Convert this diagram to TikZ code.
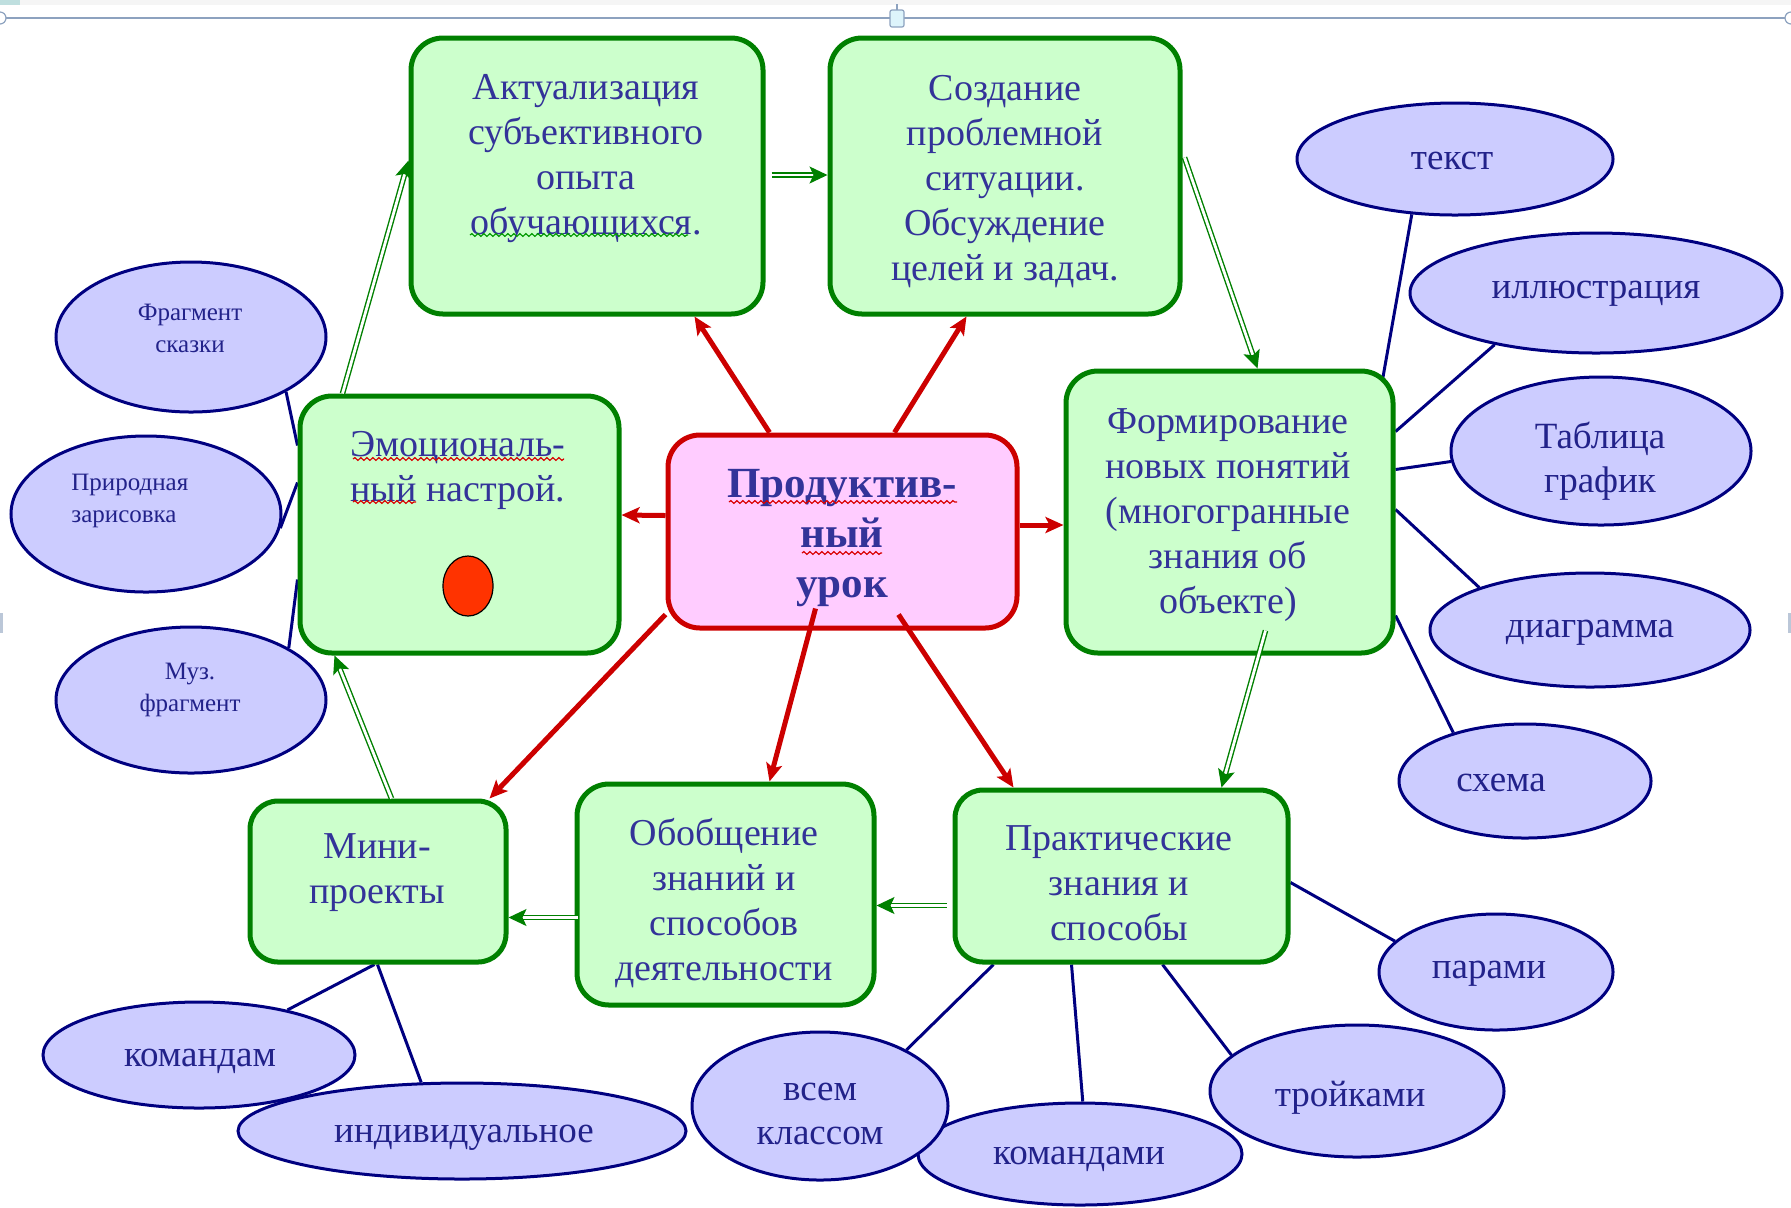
\documentclass[tikz,border=0pt]{standalone}
\usepackage{fontspec}
\setmainfont{Liberation Serif}
\usetikzlibrary{arrows.meta,shapes.geometric,calc,backgrounds,decorations.pathmorphing}
\definecolor{gfill}{HTML}{CCFFCC}
\definecolor{gline}{HTML}{008000}
\definecolor{pfill}{HTML}{FFCCFF}
\definecolor{rline}{HTML}{CC0000}
\definecolor{efill}{HTML}{CCCCFF}
\definecolor{eline}{HTML}{000080}
\definecolor{tcol}{HTML}{333399}
\definecolor{etcol}{HTML}{22228A}
\definecolor{fcol}{HTML}{8DA2BF}
\definecolor{hfill}{HTML}{DDF4FB}
\definecolor{ovalred}{HTML}{FF3300}
\begin{document}
\begin{tikzpicture}[x=0.5pt,y=-0.5pt,
  gbox/.style={draw=gline, fill=gfill, line width=2.5pt, rounded corners=16pt, inner sep=0pt},
  pbox/.style={draw=rline, fill=pfill, line width=2.5pt, rounded corners=16pt, inner sep=0pt},
  ell/.style={ellipse, draw=eline, fill=efill, line width=1.5pt, inner sep=0pt},
  btxt/.style={text=tcol, align=center, inner sep=0pt, yshift=-2.5pt, font=\fontsize{19}{22.5}\selectfont},
  etxt/.style={text=etcol, align=center, inner sep=0pt, yshift=-3.5pt, font=\fontsize{18.5}{21.7}\selectfont},
  etxtm/.style={etxt, yshift=1.5pt},
  stxt/.style={text=etcol, align=center, inner sep=0pt, yshift=-1pt, font=\fontsize{12.5}{16}\selectfont},
  ctxt/.style={text=tcol, align=center, inner sep=0pt, yshift=-2pt, font=\fontsize{21.5}{25}\selectfont\bfseries},
  garrow/.style={draw=gline, line width=0.7pt, double=white, double distance=1.4pt,
     -{Stealth[length=9pt,width=8.5pt,inset=2pt]}},
  rarrow/.style={draw=rline, line width=2.5pt, -{Stealth[length=9pt,width=8pt,inset=2pt]}},
  nline/.style={draw=eline, line width=1.5pt},
  rsquig/.style={draw=red!85!black, line width=0.6pt, decorate, decoration={snake, amplitude=0.7pt, segment length=3pt}},
  gsquig/.style={draw=green!60!black, line width=0.6pt, decorate, decoration={snake, amplitude=0.7pt, segment length=3pt}}
]
\useasboundingbox (0,0) rectangle (1791,1207);

% window frame pieces
\fill[gray!8] (0,0) rectangle (1791,5);
\fill[teal!25] (0,0) rectangle (20,5);
\draw[fcol, line width=1pt] (0,18) -- (1791,18);
\draw[fcol, line width=0.6pt, fill=white] (0,18) circle (3pt);
\draw[fcol, line width=0.6pt, fill=white] (1791,18) circle (3pt);
\draw[fcol, line width=0.8pt] (897,4) -- (897,10);
\draw[fcol, line width=0.6pt, fill=hfill, rounded corners=1pt] (890,10) rectangle (904,27);
\fill[fcol!60] (0,613) rectangle (3,633);
\fill[fcol!60] (1788,613) rectangle (1791,633);

% boxes
\node[gbox, minimum width=176pt, minimum height=138pt] (b1) at (587,176) {};
\node[gbox, minimum width=175pt, minimum height=138pt] (b2) at (1005,176) {};
\node[gbox, minimum width=159.5pt, minimum height=128.5pt] (b3) at (459.5,524.5) {};
\node[pbox, minimum width=174.5pt, minimum height=96.5pt] (c) at (842.5,531.5) {};
\node[gbox, minimum width=163.5pt, minimum height=141pt] (b5) at (1229.5,512) {};
\node[gbox, minimum width=128pt, minimum height=80.5pt, rounded corners=14pt] (b6) at (378,881.5) {};
\node[gbox, minimum width=148.5pt, minimum height=110.5pt] (b7) at (725.5,894.5) {};
\node[gbox, minimum width=166.5pt, minimum height=86pt, rounded corners=14pt] (b8) at (1121.5,876) {};

% box texts
\node[btxt] (t1) at (586,154) {Актуализация\\субъективного\\опыта\\обучающихся.};
\node[btxt] (t2) at (1005,177) {Создание\\проблемной\\ситуации.\\Обсуждение\\целей и задач.};
\node[btxt] (t3) at (458,465) {Эмоциональ-\\ный настрой.};
\node[ellipse, draw=black, line width=0.6pt, fill=ovalred, minimum width=25pt, minimum height=30pt, inner sep=0pt] (oval) at (468,586) {};
\node[ctxt] (tc) at (842,534) {Продуктив-\\ный\\урок};
\node[btxt] (t5) at (1228,510) {Формирование\\новых понятий\\(многогранные\\знания об\\объекте)};
\node[btxt] (t6) at (377,868) {Мини-\\проекты};
\node[btxt] (t7) at (724,898) {Обобщение\\знаний и\\способов\\деятельности};
\node[btxt] (t8) at (1119,878) {Практические\\знания и\\способы};

% spell-check squiggles
\draw[rsquig] (353,459) -- (564,459);
\draw[rsquig] (353,502) -- (416,502);
\draw[rsquig] (729,502) -- (957,502);
\draw[rsquig] (802,553) -- (882,553);
\draw[gsquig] (470,235) -- (688,235);

% ellipses
\node[ell, minimum width=158pt, minimum height=56pt] (e1) at (1455,159) {};
\node[ell, minimum width=186pt, minimum height=60pt] (e2) at (1596,293) {};
\node[ell, minimum width=150pt, minimum height=74pt] (e3) at (1601,451) {};
\node[ell, minimum width=160pt, minimum height=57pt] (e4) at (1590,630) {};
\node[ell, minimum width=126pt, minimum height=57pt] (e5) at (1525,781) {};
\node[ell, minimum width=117pt, minimum height=58pt] (e6) at (1496,972) {};
\node[ell, minimum width=147pt, minimum height=66pt] (e7) at (1357,1091) {};
\node[ell, minimum width=162pt, minimum height=51pt] (e8) at (1080,1154) {};
\node[ell, minimum width=128pt, minimum height=74pt] (e9) at (820,1106) {};
\node[ell, minimum width=156pt, minimum height=53pt] (e11) at (199,1055) {};
\node[ell, minimum width=224pt, minimum height=48pt] (e10) at (462,1131) {};
\node[ell, minimum width=135pt, minimum height=75pt] (e12) at (191,337) {};
\node[ell, minimum width=135pt, minimum height=78pt] (e13) at (146,514) {};
\node[ell, minimum width=135pt, minimum height=73pt] (e14) at (191,700) {};

% ellipse texts
\node[etxt] (te1) at (1452,154) {текст};
\node[etxt] (te2) at (1596,287) {иллюстрация};
\node[etxtm] (te3) at (1600,457) {Таблица\\график};
\node[etxt] (te4) at (1590,626) {диаграмма};
\node[etxt] (te5) at (1501,776) {схема};
\node[etxt] (te6) at (1489,967) {парами};
\node[etxt] (te7) at (1350,1091) {тройками};
\node[etxt] (te8) at (1079,1152) {командами};
\node[etxtm] (te9) at (820,1110) {всем\\классом};
\node[etxt] (te10) at (464,1131) {индивидуальное};
\node[etxt] (te11) at (200,1054) {командам};
\node[stxt] (te12) at (190,326) {Фрагмент\\сказки};
\node[stxt, anchor=west, align=left] (te13) at (71,499) {Природная\\зарисовка};
\node[stxt] (te14) at (190,688) {Муз.\\фрагмент};

% navy connector lines (behind shapes)
\begin{pgfonlayer}{background}
\draw[nline] (e1.-128) -- ($(b5.north east)+(-14,17)$);
\draw[nline] (e2.207.5) -- ($(b5.north east)+(0,63)$);
\draw[nline] (e3.184.7) -- ($(b5.north east)+(0,101)$);
\draw[nline] (e4.159) -- ($(b5.north east)+(0,141)$);
\draw[nline] (e5.146.5) -- ($(b5.south east)+(0,-40)$);
\draw[nline] (e6.163) -- ($(b8.north east)+(0,95)$);
\draw[nline] (e7.164) -- ($(b8.south west)+(210,0)$);
\draw[nline] (e8.87) -- ($(b8.south west)+(119,0)$);
\draw[nline] (e9.33) -- ($(b8.south west)+(41,0)$);
\draw[nline] (e10.130) -- ($(b6.south west)+(130,0)$);
\draw[nline] (e11.27.6) -- ($(b6.south west)+(127,0)$);
\draw[nline] (e12.-30.7) -- ($(b3.north west)+(0,52)$);
\draw[nline] (e13.-6) -- ($(b3.north west)+(0,89)$);
\draw[nline] (e14.28) -- ($(b3.south west)+(0,-76)$);
\end{pgfonlayer}

% green cycle arrows
\draw[garrow] ($(b3.north west)+(45,0)$) -- ($(b1.north west)+(0,125)$);
\draw[garrow] ($(b1.east)+(6,-1)$) -- ($(b2.west)+(0,-1)$);
\draw[garrow] ($(b2.north east)+(2,122)$) -- ($(b5.north west)+(194,0)$);
\draw[garrow] ($(b5.south west)+(202,-25)$) -- ($(b8.north west)+(269,0)$);
\draw[garrow] ($(b8.south west)+(-6,-59)$) -- ($(b7.south east)+(0,-102)$);
\draw[garrow] ($(b7.south west)+(3,-90)$) -- ($(b6.south east)+(0,-47)$);
\draw[garrow] ($(b6.north west)+(144,0)$) -- ($(b3.south west)+(37,0)$);

% red arrows from the centre
\draw[rarrow] ($(c.north west)+(104,0)$) -- ($(b1.south west)+(286,0)$);
\draw[rarrow] ($(c.north west)+(229,0)$) -- ($(b2.south west)+(139,0)$);
\draw[rarrow] ($(c.west)+(0,-16)$) -- ($(b3.east)+(0,-9.5)$);
\draw[rarrow] ($(c.east)+(0,-6.5)$) -- ($(b5.west)+(0,13)$);
\draw[rarrow] ($(c.south west)+(0,-16)$) -- ($(b6.north east)+(-19,0)$);
\draw[rarrow] ($(c.south west)+(150,-22)$) -- ($(b7.north west)+(195,0)$);
\draw[rarrow] ($(c.south west)+(233,-16)$) -- ($(b8.north west)+(61,0)$);
\end{tikzpicture}
\end{document}
